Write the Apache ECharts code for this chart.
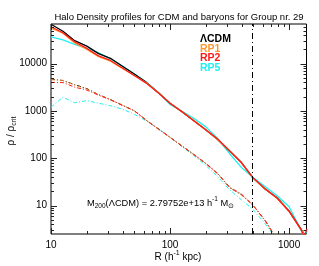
<!DOCTYPE html>
<html><head><meta charset="utf-8">
<script src="https://cdn.jsdelivr.net/npm/echarts@6/dist/echarts.min.js"></script>
<style>html,body{margin:0;padding:0;background:#fff}#c{width:319px;height:266px}</style>
</head><body><div id="c"></div>
<script>
// Radii (h^-1 kpc)
const radius = [10, 12.6, 15.8, 20, 25.1, 31.6, 39.8, 50.1, 63.1, 79.4, 100, 126, 158, 200, 251, 316, 398, 501, 631, 794, 1000, 1259, 1413];
const radiusTail = [10, 12.6, 15.8, 20, 25.1, 31.6, 39.8, 50.1, 63.1, 79.4, 100, 126, 158, 200, 251, 316, 398, 501, 631, 794, 1000, 1259, 1340, 1413];
// Total density profiles (solid)
const lcdmTotal = [68000, 48600, 30600, 23500, 16300, 13000, 8850, 6040, 4020, 2450, 1460, 966, 625, 396, 250, 142, 81, 37.7, 22.1, 14.6, 7.7, 3.19, 2.0];
const rp1Total  = [56100, 44000, 27500, 20000, 14100, 11300, 7900, 5610, 3950, 2450, 1460, 966, 625, 398, 250, 143, 80, 37.5, 22, 14.4, 7.6, 3.1, 2.0];
const rp2Total  = [60400, 45000, 29000, 21000, 14600, 11700, 8110, 5610, 3880, 2440, 1450, 960, 620, 400, 255, 145, 80, 38, 22.5, 14.2, 7.5, 3.1, 2.2, 3.2];
const rp5Total  = [37000, 31900, 25600, 21000, 16900, 12600, 8930, 6040, 4080, 2500, 1370, 986, 700, 461, 262, 126, 63.4, 38.8, 25, 16.1, 9.4, 3.0, 2.2, 2.9];
// Second set of profiles (dash-dot)
const lcdmBaryon = [4720, 4390, 3610, 2970, 2210, 1730, 1320, 1010, 634, 418, 276, 182, 120, 77, 47.2, 24, 16.9, 9.9, 4.72, 1.86];
const rp1Baryon  = [4550, 4450, 3500, 2900, 2200, 1720, 1330, 1000, 630, 415, 275, 183, 119, 76, 47, 24, 16.8, 9.8, 4.7, 1.85];
const rp2Baryon  = [4020, 3980, 3190, 2760, 2160, 1730, 1320, 1010, 640, 420, 278, 180, 121, 78, 48, 24.5, 17.5, 10, 4.8, 1.9];
const rp5Baryon  = [1200, 1955, 1490, 1650, 1460, 1290, 1090, 851, 618, 428, 276, 177, 114, 70, 40.8, 21.6, 13.2, 8.1, 4.08, 1.86];
const r200 = 490;
const legendNames = ['\u039BCDM', 'RP1', 'RP2', 'RP5'];
const xMajorTicks = [10, 100, 1000];
const xMinorTicks = [20, 30, 40, 50, 60, 70, 80, 90, 200, 300, 400, 500, 600, 700, 800, 900];
const yMajorTicks = [10, 100, 1000, 10000];
const yMinorTicks = [3, 4, 5, 6, 7, 8, 9, 20, 30, 40, 50, 60, 70, 80, 90, 200, 300, 400, 500, 600, 700, 800, 900,
  2000, 3000, 4000, 5000, 6000, 7000, 8000, 9000, 20000, 30000, 40000, 50000, 60000];

const FONT = 'Liberation Sans, Arial, Helvetica, sans-serif';
const colors = {lcdm: '#000000', rp1: '#ff9933', rp2: '#ff1a1a', rp5: '#22f0f0'};
const X_MIN = 10, X_MAX = 1400, Y_MIN = 2.5, Y_MAX = 69000;

const pairs = (xs, ys) => ys.map((y, i) => [xs[i], y]);
function curve(xs, ys, color, dashed, z) {
  return {
    type: 'line', data: pairs(xs, ys), symbol: 'none', showSymbol: false, clip: true, silent: true, z: z,
    lineStyle: {color: color, width: dashed ? 1 : 1.3, type: dashed ? [4, 2, 1, 2] : 'solid'}
  };
}
function tickSeries(values, axis, len) {
  return {
    type: 'custom', silent: true, z: 10, clip: false,
    data: values.map(v => axis === 'x' ? [v, Y_MIN] : [X_MIN, v]),
    renderItem: function (params, api) {
      const cs = params.coordSys;
      const p = api.coord([api.value(0), api.value(1)]);
      const st = {stroke: '#222', lineWidth: 1};
      if (axis === 'x') {
        const x = Math.round(p[0]) + 0.5;
        return {type: 'group', children: [
          {type: 'line', shape: {x1: x, y1: cs.y + cs.height, x2: x, y2: cs.y + cs.height - len}, style: st},
          {type: 'line', shape: {x1: x, y1: cs.y, x2: x, y2: cs.y + len}, style: st}
        ]};
      }
      const y = Math.round(p[1]) + 0.5;
      return {type: 'group', children: [
        {type: 'line', shape: {x1: cs.x, y1: y, x2: cs.x + len, y2: y}, style: st},
        {type: 'line', shape: {x1: cs.x + cs.width, y1: y, x2: cs.x + cs.width - len, y2: y}, style: st}
      ]};
    }
  };
}
const decadeLabel = v => {
  const l = Math.log10(v);
  return Math.abs(l - Math.round(l)) < 1e-6 ? String(Math.round(v)) : '';
};

const blackSolid = curve(radius, lcdmTotal, colors.lcdm, false, 3);
blackSolid.markLine = {
  silent: true, symbol: 'none', label: {show: false}, animation: false,
  lineStyle: {color: '#000', width: 1, type: [6, 3, 1, 3]},
  data: [{xAxis: r200}]
};

function richSet(size) {
  return {
    n: {fontSize: size, lineHeight: 14, fill: '#000', fontFamily: FONT},
    s: {fontSize: size * 0.7, lineHeight: 7, verticalAlign: 'bottom', fill: '#000', fontFamily: FONT},
    p: {fontSize: size * 0.7, lineHeight: 7, verticalAlign: 'top', fill: '#000', fontFamily: FONT}
  };
}

const chart = echarts.init(document.getElementById('c'), null, {renderer: 'canvas'});
chart.setOption({
  animation: false,
  backgroundColor: '#fff',
  grid: {left: 51, right: 12.5, top: 24, bottom: 32, show: true, borderColor: '#000', borderWidth: 1,
    backgroundColor: 'transparent', containLabel: false, outerBoundsMode: 'none'},
  xAxis: {type: 'log', logBase: 10, min: X_MIN, max: X_MAX,
    axisLine: {show: false}, axisTick: {show: false}, splitLine: {show: false},
    axisLabel: {formatter: decadeLabel, fontSize: 10, color: '#000', margin: 6, fontFamily: FONT}},
  yAxis: {type: 'log', logBase: 10, min: Y_MIN, max: Y_MAX,
    axisLine: {show: false}, axisTick: {show: false}, splitLine: {show: false},
    axisLabel: {formatter: decadeLabel, fontSize: 10, color: '#000', margin: 4, fontFamily: FONT}},
  series: [
    curve(radius.slice(0, rp5Baryon.length), rp5Baryon, colors.rp5, true, 2),
    curve(radius.slice(0, lcdmBaryon.length), lcdmBaryon, colors.lcdm, true, 2),
    curve(radius.slice(0, rp1Baryon.length), rp1Baryon, colors.rp1, true, 2),
    curve(radius.slice(0, rp2Baryon.length), rp2Baryon, colors.rp2, true, 2),
    curve(radiusTail, rp5Total, colors.rp5, false, 3),
    blackSolid,
    curve(radius, rp1Total, colors.rp1, false, 3),
    curve(radiusTail, rp2Total, colors.rp2, false, 3),
    tickSeries(xMajorTicks, 'x', 6),
    tickSeries(xMinorTicks, 'x', 3),
    tickSeries(yMajorTicks, 'y', 6),
    tickSeries(yMinorTicks, 'y', 3)
  ],
  graphic: [
    {type: 'text', x: 179, y: 17, style: {text: 'Halo Density profiles for CDM and baryons for Group nr. 29',
      fontSize: 9.5, fontFamily: FONT, fill: '#000', align: 'center', verticalAlign: 'middle'}},
    {type: 'text', x: 200, y: 39.5, style: {text: legendNames[0], fontSize: 10.5, fontWeight: 'bold', fontFamily: FONT, fill: colors.lcdm, align: 'left', verticalAlign: 'middle'}},
    {type: 'text', x: 200, y: 49, style: {text: legendNames[1], fontSize: 10.5, fontWeight: 'bold', fontFamily: FONT, fill: colors.rp1, align: 'left', verticalAlign: 'middle'}},
    {type: 'text', x: 200, y: 58.5, style: {text: legendNames[2], fontSize: 10.5, fontWeight: 'bold', fontFamily: FONT, fill: colors.rp2, align: 'left', verticalAlign: 'middle'}},
    {type: 'text', x: 200, y: 68, style: {text: legendNames[3], fontSize: 10.5, fontWeight: 'bold', fontFamily: FONT, fill: colors.rp5, align: 'left', verticalAlign: 'middle'}},
    {type: 'text', x: 87, y: 203, style: {text: '{n|M}{s|200}{n|(\u039BCDM) = 2.79752e+13 h}{p|-1}{n| M}{s|\u2299}',
      rich: richSet(9.3), align: 'left', verticalAlign: 'middle'}},
    {type: 'text', x: 178, y: 257, style: {text: '{n|R (h}{p|-1}{n| kpc)}', rich: richSet(10), align: 'center', verticalAlign: 'middle'}},
    {type: 'text', x: 11, y: 131, rotation: Math.PI / 2, style: {text: '{n|\u03C1 / \u03C1}{s|crit}', rich: richSet(10), align: 'center', verticalAlign: 'middle'}}
  ]
});
</script></body></html>
